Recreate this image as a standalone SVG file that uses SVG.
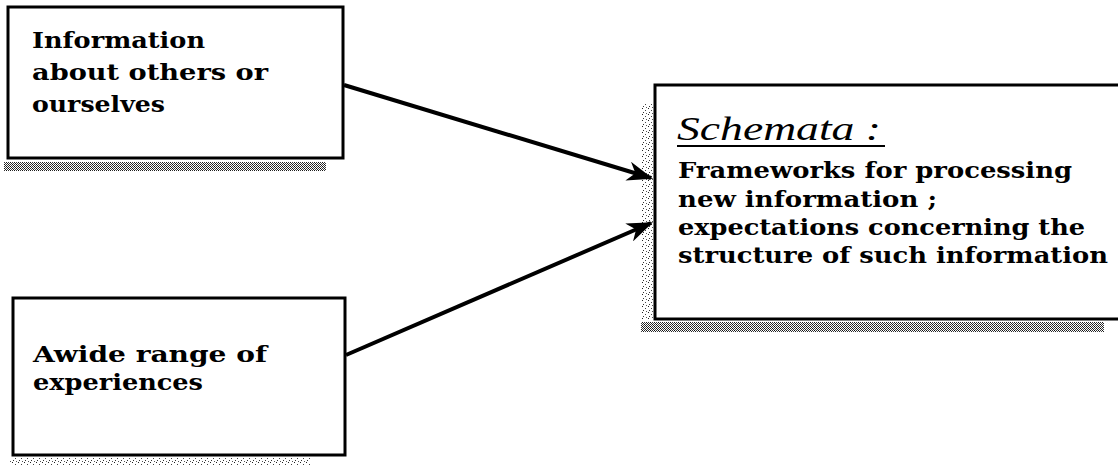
<svg xmlns="http://www.w3.org/2000/svg" width="1118" height="466" viewBox="0 0 1118 466">
  <defs>
    <pattern id="dots" width="4" height="4" patternUnits="userSpaceOnUse">
      <rect x="0" y="0" width="1" height="1" fill="#111"/>
      <rect x="2" y="0" width="1" height="1" fill="#333"/>
      <rect x="1" y="1" width="1" height="1" fill="#222"/>
      <rect x="3" y="1" width="1" height="1" fill="#444"/>
      <rect x="0" y="2" width="1" height="1" fill="#333"/>
      <rect x="2" y="2" width="1" height="1" fill="#111"/>
      <rect x="1" y="3" width="1" height="1" fill="#444"/>
      <rect x="3" y="3" width="1" height="1" fill="#222"/>
    </pattern>
    <pattern id="sparse" width="6" height="6" patternUnits="userSpaceOnUse">
      <rect x="0" y="0" width="1" height="1" fill="#222"/>
      <rect x="3" y="2" width="1" height="1" fill="#444"/>
      <rect x="1" y="4" width="1" height="1" fill="#333"/>
      <rect x="4" y="5" width="1" height="1" fill="#555"/>
    </pattern>
    <marker id="arrow" viewBox="0 0 12 9" refX="11" refY="4.5" markerWidth="6.5" markerHeight="4.9" markerUnits="strokeWidth" orient="auto">
      <path d="M0,0 L12,4.5 L0,9 L3.5,4.5 z" fill="#000"/>
    </marker>
    <style>
      .box { fill: #fff; stroke: #000; stroke-width: 3; }
      .lbl { font-family: "DejaVu Serif", "Liberation Serif", serif; font-size: 23px; font-weight: bold; fill: #000; }
      .title { font-family: "Liberation Serif", "DejaVu Serif", serif; font-size: 33px; font-style: italic; fill: #000; }
      .conn { stroke: #000; stroke-width: 4; fill: none; }
    </style>
  </defs>

  <rect width="1118" height="466" fill="#fff"/>

  <g id="node-information">
    <rect x="4" y="162" width="322" height="9" fill="url(#dots)"/>
    <rect class="box" x="8" y="7" width="335" height="151"/>
    <text class="lbl" x="32" y="48" textLength="173" lengthAdjust="spacingAndGlyphs">Information</text>
    <text class="lbl" x="32" y="80" textLength="236" lengthAdjust="spacingAndGlyphs">about others or</text>
    <text class="lbl" x="32" y="112" textLength="133" lengthAdjust="spacingAndGlyphs">ourselves</text>
  </g>

  <g id="node-experiences">
    <rect x="10" y="458" width="300" height="8" fill="url(#sparse)"/>
    <rect class="box" x="13" y="298" width="332" height="157"/>
    <text class="lbl" x="33" y="362" textLength="234" lengthAdjust="spacingAndGlyphs">Awide range of</text>
    <text class="lbl" x="33" y="390" textLength="170" lengthAdjust="spacingAndGlyphs">experiences</text>
  </g>

  <g id="node-schemata">
    <rect x="641" y="103" width="13" height="217" fill="url(#sparse)"/>
    <rect x="641" y="322" width="463" height="10" fill="url(#dots)"/>
    <rect class="box" x="655" y="85" width="480" height="234"/>
    <text class="title" x="677" y="140" textLength="204" lengthAdjust="spacingAndGlyphs">Schemata :</text>
    <line x1="677" y1="146" x2="885" y2="146" stroke="#000" stroke-width="2"/>
    <text class="lbl" x="678" y="178" textLength="394" lengthAdjust="spacingAndGlyphs">Frameworks for processing</text>
    <text class="lbl" x="678" y="207" textLength="259" lengthAdjust="spacingAndGlyphs">new information ;</text>
    <text class="lbl" x="678" y="235" textLength="407" lengthAdjust="spacingAndGlyphs">expectations concerning the</text>
    <text class="lbl" x="678" y="263" textLength="430" lengthAdjust="spacingAndGlyphs">structure of such information</text>
  </g>

  <g id="connectors">
    <line class="conn" x1="344" y1="85" x2="651" y2="178" marker-end="url(#arrow)"/>
    <line class="conn" x1="346" y1="355" x2="651" y2="223" marker-end="url(#arrow)"/>
  </g>
</svg>
